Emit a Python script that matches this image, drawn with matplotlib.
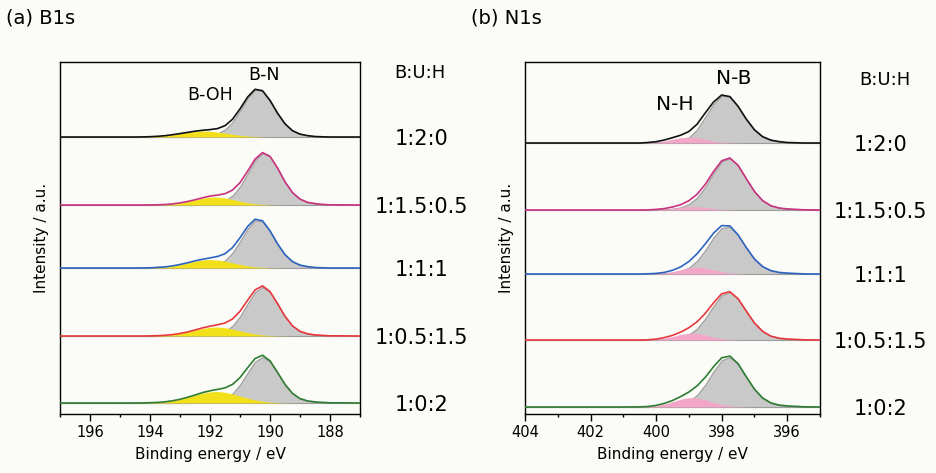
import numpy as np
import matplotlib
matplotlib.use('Agg')
import matplotlib.pyplot as plt
import matplotlib.transforms as mtrans

# sample ratios B:U:H, top to bottom
ratios = ['1:2:0', '1:1.5:0.5', '1:1:1', '1:0.5:1.5', '1:0:2']
line_colors = ['#111111', '#c8327e', '#2e64c0', '#e8383d', '#2e7d32']

# ---- B1s panel: energy grid and fitted components
energy_b = [197.0, 195.0, 194.5, 194.25, 194.0, 193.75, 193.5, 193.25, 193.0, 192.75,
            192.5, 192.25, 192.0, 191.75, 191.5, 191.25, 191.0, 190.75, 190.5, 190.25,
            190.0, 189.75, 189.5, 189.25, 189.0, 188.75, 188.5, 188.25, 188.0, 187.0]

bn_black = [0, 0, 0, 0, 0, 0, 0, 0, 0, 0,
            0.3, 0.7, 1.6, 3.4, 7.4, 15.0, 26.4, 38.9, 47.2, 46.1,
            36.6, 23.9, 13.2, 6.3, 2.9, 1.4, 0.5, 0.2, 0, 0]
boh_black = [0, 0, 0, 0.1, 0.3, 0.7, 1.3, 2.3, 3.4, 4.6,
             5.5, 6.0, 5.8, 5.0, 3.9, 2.7, 1.7, 0.9, 0.5, 0.2,
             0, 0, 0, 0, 0, 0, 0, 0, 0, 0]
bn_magenta = [0, 0, 0, 0, 0, 0, 0, 0, 0, 0,
              0, 0.4, 1.1, 2.0, 4.3, 9.4, 18.5, 31.4, 44.6, 51.8,
              48.5, 36.9, 23.2, 12.4, 5.9, 2.7, 1.4, 0.6, 0.2, 0]
boh_magenta = [0, 0, 0, 0, 0.1, 0.2, 0.5, 1.1, 2.1, 3.5,
               5.2, 6.8, 7.8, 7.9, 7.0, 5.5, 3.8, 2.3, 1.2, 0.6,
               0.2, 0.1, 0, 0, 0, 0, 0, 0, 0, 0]
bn_blue = [0, 0, 0, 0, 0, 0, 0, 0, 0, 0,
           0.3, 0.7, 1.6, 3.5, 7.5, 15.2, 26.7, 39.3, 47.7, 46.6,
           37.0, 24.1, 13.3, 6.4, 2.9, 1.4, 0.5, 0.2, 0, 0]
boh_blue = [0, 0, 0, 0.1, 0.2, 0.6, 1.1, 2.1, 3.5, 5.2,
            6.8, 8.0, 8.5, 8.0, 6.8, 5.2, 3.5, 2.1, 1.1, 0.6,
            0.2, 0.1, 0, 0, 0, 0, 0, 0, 0, 0]
bn_red = [0, 0, 0, 0, 0, 0, 0, 0, 0, 0,
          0.2, 0.6, 1.1, 2.2, 4.7, 10.1, 19.6, 32.2, 44.0, 49.0,
          44.0, 32.2, 19.6, 10.1, 4.7, 2.2, 1.1, 0.6, 0.2, 0]
boh_red = [0, 0, 0, 0, 0.1, 0.3, 0.7, 1.4, 2.5, 4.0,
           5.8, 7.5, 8.7, 9.0, 8.3, 6.9, 5.1, 3.4, 2.0, 1.1,
           0.5, 0.2, 0.1, 0, 0, 0, 0, 0, 0, 0]
bn_green = [0, 0, 0, 0, 0, 0, 0, 0, 0, 0,
            0.2, 0.6, 1.1, 2.1, 4.4, 9.5, 18.4, 30.2, 41.3, 46.0,
            41.3, 30.2, 18.4, 9.5, 4.4, 2.1, 1.1, 0.6, 0.2, 0]
boh_green = [0, 0, 0, 0.1, 0.3, 0.6, 1.2, 2.2, 3.7, 5.7,
             7.8, 9.8, 11.1, 11.5, 10.7, 9.1, 7.0, 4.9, 3.1, 1.8,
             0.9, 0.4, 0.2, 0.1, 0, 0, 0, 0, 0, 0]

# baseline of each trace (stack offsets)
offsets_b = [277, 209, 146, 78, 11]

# ---- N1s panel
energy_n = [404.0, 402.0, 401.0, 400.5, 400.25, 400.0, 399.75, 399.5, 399.25, 399.0,
            398.75, 398.5, 398.25, 398.0, 397.75, 397.5, 397.25, 397.0, 396.75, 396.5,
            396.25, 396.0, 395.5, 395.0]

nb_black = [0, 0, 0, 0, 0.2, 0.5, 1.0, 1.6, 2.5, 5.5,
            13.5, 26.4, 38.9, 47.2, 46.1, 36.6, 23.9, 13.2, 6.3, 2.9,
            1.4, 0.5, 0, 0]
nh_black = [0, 0, 0, 0, 0.3, 0.8, 2.0, 3.7, 5.3, 6.0,
            5.3, 3.7, 2.0, 0.8, 0.3, 0.1, 0, 0, 0, 0,
            0, 0, 0, 0]
nb_magenta = [0, 0, 0, 0, 0, 0.3, 0.6, 1.3, 2.6, 5.9,
              12.4, 23.2, 36.9, 48.5, 51.8, 44.6, 31.4, 18.5, 9.4, 4.3,
              2.0, 1.1, 0.2, 0]
nh_magenta = [0, 0, 0, 0, 0.1, 0.3, 0.8, 1.7, 2.7, 3.4,
              3.3, 2.5, 1.5, 0.7, 0.25, 0.1, 0, 0, 0, 0,
              0, 0, 0, 0]
nb_blue = [0, 0, 0, 0, 0.1, 0.3, 0.7, 1.4, 2.9, 6.3,
           13.2, 23.9, 36.6, 46.1, 47.2, 38.9, 26.4, 15.0, 7.4, 3.4,
           1.6, 0.9, 0.1, 0]
nh_blue = [0, 0, 0, 0, 0.1, 0.3, 0.9, 2.3, 4.2, 6.2,
           7.0, 6.2, 4.2, 2.3, 0.9, 0.3, 0.1, 0, 0, 0,
           0, 0, 0, 0]
nb_red = [0, 0, 0, 0, 0, 0.3, 0.7, 1.2, 2.4, 5.4,
          11.5, 21.5, 34.1, 44.8, 47.8, 41.1, 28.9, 17.0, 8.6, 3.9,
          1.8, 1.0, 0.2, 0]
nh_red = [0, 0, 0, 0, 0.2, 0.6, 1.7, 3.4, 5.5, 6.9,
          6.7, 5.1, 3.0, 1.4, 0.5, 0.2, 0, 0, 0, 0,
          0, 0, 0, 0]
nb_green = [0, 0, 0, 0, 0, 0.3, 0.7, 1.3, 2.6, 5.7,
            12.0, 22.4, 35.5, 46.7, 49.8, 42.9, 30.2, 17.8, 9.0, 4.1,
            1.9, 1.1, 0.2, 0]
nh_green = [0, 0, 0, 0.1, 0.5, 1.3, 2.9, 5.2, 7.8, 9.3,
            9.1, 7.3, 4.7, 2.5, 1.1, 0.4, 0.1, 0, 0, 0,
            0, 0, 0, 0]

offsets_n = [271, 204, 140, 74, 7]

bg = '#fbfbf7'
gray_fill = '#c9c9c9'


def draw_panel(ax, energy, mains, minors, offsets, minor_color, xlim, ticks):
    e = np.array(energy)
    for main, minor, off, col in zip(mains, minors, offsets, line_colors):
        main = np.array(main)
        minor = np.array(minor)
        ax.fill_between(e, off, off + main, color=gray_fill, lw=0.8,
                        edgecolor='#9c9c9c', zorder=2)
        ax.fill_between(e, off, off + minor, color=minor_color, lw=0, zorder=3)
        ax.plot(e, off + main + minor, color=col, lw=1.2, zorder=4)
    ax.set_xlim(*xlim)
    ax.set_ylim(0, 352)
    ax.set_xticks(ticks)
    ax.set_xticks(np.arange(min(xlim), max(xlim) + 0.5, 1.0), minor=True)
    ax.set_yticks([])
    ax.tick_params(axis='x', which='major', direction='out', length=5, width=1,
                   labelsize=10.5, pad=3)
    ax.tick_params(axis='x', which='minor', direction='out', length=2.5, width=1)
    for sp in ax.spines.values():
        sp.set_linewidth(1.0)
    ax.set_facecolor(bg)
    ax.set_xlabel('Binding energy / eV', fontsize=11, labelpad=5)
    ax.set_ylabel('Intensity / a.u.', fontsize=11, labelpad=8)

    # ratio labels on the right of the frame
    trans = mtrans.blended_transform_factory(ax.transAxes, ax.transData)
    for lab, off in zip(ratios, offsets):
        ax.text(1.205, off - 2, lab, transform=trans, ha='center', va='center',
                fontsize=15, clip_on=False)


fig = plt.figure(figsize=(9.36, 4.73), dpi=100, facecolor=bg)

ax1 = fig.add_axes([60 / 936, 1 - 414 / 473, 300 / 936, 352 / 473])
draw_panel(ax1, energy_b,
           [bn_black, bn_magenta, bn_blue, bn_red, bn_green],
           [boh_black, boh_magenta, boh_blue, boh_red, boh_green],
           offsets_b, '#f2e11a', (197, 187), [196, 194, 192, 190, 188])
ax1.text(192.0, 319, 'B-OH', ha='center', va='center', fontsize=12.5)
ax1.text(190.2, 339, 'B-N', ha='center', va='center', fontsize=12.5)
ax1.text(1.2, 341, 'B:U:H', transform=mtrans.blended_transform_factory(ax1.transAxes, ax1.transData),
         ha='center', va='center', fontsize=13, clip_on=False)

ax2 = fig.add_axes([525 / 936, 1 - 414 / 473, 295 / 936, 352 / 473])
draw_panel(ax2, energy_n,
           [nb_black, nb_magenta, nb_blue, nb_red, nb_green],
           [nh_black, nh_magenta, nh_blue, nh_red, nh_green],
           offsets_n, '#f2a6c8', (404, 395), [404, 402, 400, 398, 396])
ax2.text(397.63, 336, 'N-B', ha='center', va='center', fontsize=14.5)
ax2.text(399.42, 309, 'N-H', ha='center', va='center', fontsize=14.5)
ax2.text(1.22, 334, 'B:U:H', transform=mtrans.blended_transform_factory(ax2.transAxes, ax2.transData),
         ha='center', va='center', fontsize=13, clip_on=False)

fig.text(6 / 936, 1 - 18 / 473, '(a) B1s', ha='left', va='center', fontsize=14)
fig.text(471 / 936, 1 - 18 / 473, '(b) N1s', ha='left', va='center', fontsize=14)

fig.savefig('out.png', dpi=100, facecolor=bg)
